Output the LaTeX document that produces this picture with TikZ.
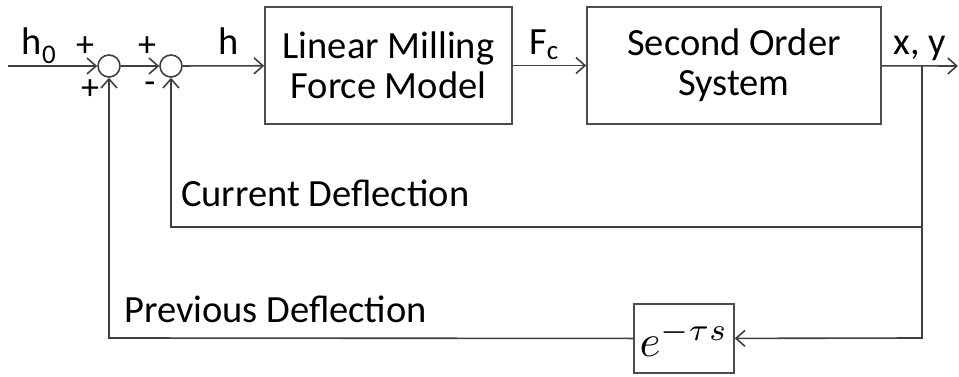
\documentclass[tikz,border=0pt]{standalone}
\usepackage{fontspec}
\setmainfont{Carlito}
\usetikzlibrary{arrows.meta}
\begin{document}
\begin{tikzpicture}[x=1pt,y=1pt,
  ln/.style={line width=1.6pt,draw=black!75},
  arr/.style={ln,-{Straight Barb[length=9pt,width=16pt,line width=1.6pt]}},
  blk/.style={ln,draw=black!70,minimum height=117pt,inner sep=0pt,align=center,
    font=\fontsize{38.5}{40}\selectfont},
  sumc/.style={ln,circle,minimum size=22pt,inner sep=0pt},
  lbl/.style={inner sep=0pt,font=\fontsize{38.5}{40}\selectfont},
  sgn/.style={inner sep=0pt,font=\fontsize{36}{38}\selectfont}]
\useasboundingbox (0,0) rectangle (959,377);
\fill[white] (0,0) rectangle (959,377);
\coordinate (in) at (8,311);
\node[sumc] (s1) at (109,311) {};
\node[sumc] (s2) at (171,311) {};
\node[blk,minimum width=247pt] (b1) at (388.5,311.5) {Linear Milling\\Force Model};
\node[blk,minimum width=294pt] (b2) at (734,311.5) {Second Order\\System};
\node[blk,minimum width=100pt,minimum height=69pt,font=\normalsize] (d) at (684,38.5) {\scalebox{4.5}{$e^{-\tau s}$}};
\coordinate (out) at (958,311);
\coordinate (br) at (922,311);
\coordinate (br1) at (922,150);
\coordinate (br2) at (922,39);
\coordinate (c1) at (171,150);
\coordinate (p1) at (109,39);
\draw[arr] (in) -- (s1);
\draw[arr] (s1) -- (s2);
\draw[arr] (s2) -- (b1);
\draw[arr] (b1) -- (b2);
\draw[arr] (b2) -- (out);
\draw[arr] (br) -- (br2) -- (d);
\draw[arr] (br1) -- (c1) -- (s2);
\draw[arr] (d) -- (p1) -- (s1);
\node[lbl,anchor=base] (h0) at (39,322) {h\textsubscript{0}};
\node[sgn] (pa) at (85,330) {+};
\node[sgn] (pb) at (90,287) {+};
\node[sgn] (pc) at (147,330) {+};
\node[sgn] (pd) at (150,289) {-};
\node[lbl,anchor=base] (h) at (229,322) {h};
\node[lbl,anchor=base] (fc) at (544,322) {F\textsubscript{c}};
\node[lbl,anchor=base] (xy) at (920,322) {x, y};
\node[lbl,anchor=base west] (cd) at (181,170) {Current Deflection};
\node[lbl,anchor=base west] (pdf) at (124,54) {Previous Deflection};
\end{tikzpicture}
\end{document}
